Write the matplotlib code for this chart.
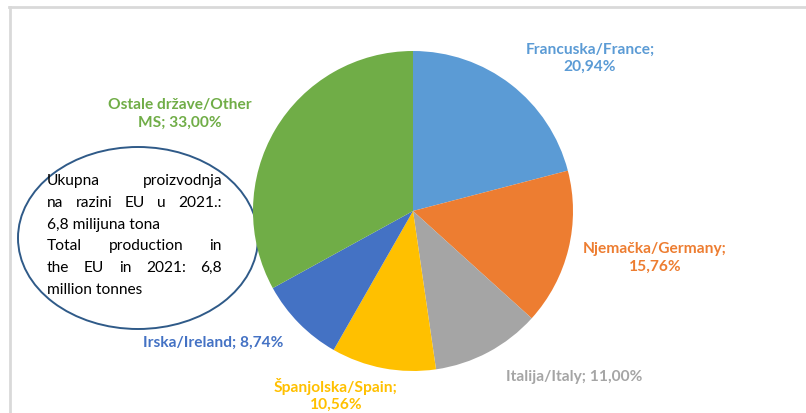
import matplotlib
matplotlib.use("Agg")
import matplotlib.pyplot as plt
from matplotlib.patches import Ellipse
from matplotlib.lines import Line2D

# Data
countries = ["Francuska/France", "Njemačka/Germany", "Italija/Italy",
             "Španjolska/Spain", "Irska/Ireland", "Ostale države/Other MS"]
shares = [20.94, 15.76, 11.00, 10.56, 8.74, 33.00]
colors = ["#5B9BD5", "#ED7D31", "#A5A5A5", "#FFC000", "#4472C4", "#70AD47"]
label_texts = ["Francuska/France;\n{}%", "Njemačka/Germany;\n{}%", "Italija/Italy; {}%",
               "Španjolska/Spain;\n{}%", "Irska/Ireland; {}%", "Ostale države/Other\nMS; {}%"]
label_pos = [(590, 58), (655, 258), (574, 377), (336, 395), (213, 343), (180, 114)]

note_lines = [["Ukupna", "proizvodnja"],
              ["na", "razini", "EU", "u", "2021.:"],
              ["6,8 milijuna tona"],
              ["Total", "production", "in"],
              ["the", "EU", "in", "2021:", "6,8"],
              ["million tonnes"]]

W, H = 806, 414
fig = plt.figure(figsize=(W / 100, H / 100), dpi=100)
fig.patch.set_facecolor("white")

# overlay in pixel coordinates
ov = fig.add_axes([0, 0, 1, 1])
ov.set_xlim(0, W)
ov.set_ylim(H, 0)
ov.axis("off")

# pie
cx, cy, r = 413, 212, 160
pax = fig.add_axes([(cx - r) / W, (H - cy - r) / H, 2 * r / W, 2 * r / H])
pax.pie(shares, colors=colors, startangle=90, counterclock=False,
        wedgeprops=dict(linewidth=0))
pax.set_xlim(-1, 1)
pax.set_ylim(-1, 1)
pax.set_aspect("equal")
pax.axis("off")

# frame lines
ov.add_line(Line2D([9, W], [8, 8], color="#d9d9d9", lw=2))
ov.add_line(Line2D([9.5, 9.5], [8, H], color="#d9d9d9", lw=2))

font = "Lato"
for txt, val, (x, y), c in zip(label_texts, shares, label_pos, colors):
    s = txt.format(f"{val:.2f}".replace(".", ","))
    ov.text(x, y, s, ha="center", va="center", color=c, fontsize=11.2,
            fontweight="bold", family=font, linespacing=1.3)

# note ellipse
ov.add_patch(Ellipse((138, 239), 240, 182, fill=False, edgecolor="#2F5A88", lw=1.4))

fig.canvas.draw()
renderer = fig.canvas.get_renderer()
x0, x1 = 47, 222
y = 181
for words in note_lines:
    arts = [ov.text(0, y, w, ha="left", va="center", fontsize=11.2,
                    family=font, color="black") for w in words]
    if len(words) == 1:
        arts[0].set_x(x0)
    else:
        widths = []
        for a in arts:
            bb = a.get_window_extent(renderer)
            widths.append(bb.width)
        gap = (x1 - x0 - sum(widths)) / (len(words) - 1)
        xx = x0
        for a, w in zip(arts, widths):
            a.set_x(xx)
            xx += w + gap
    y += 21.8

fig.savefig("out.png", dpi=100, facecolor="white")
